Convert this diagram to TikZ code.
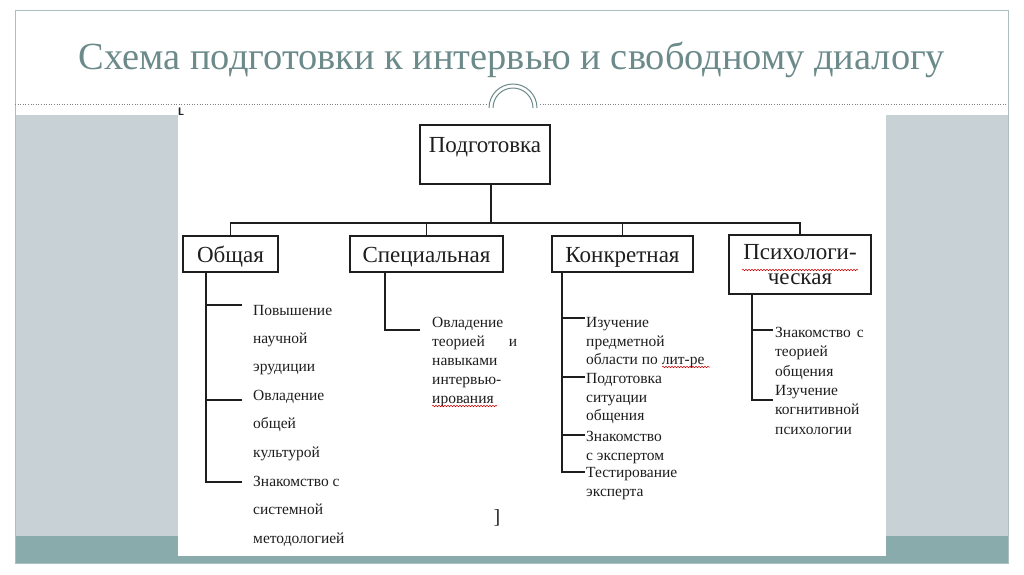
\documentclass[tikz,border=0pt]{standalone}
\usepackage{fontspec}
\setmainfont{Liberation Serif}
\usetikzlibrary{decorations.pathmorphing}
\definecolor{panel}{RGB}{199,209,214}
\definecolor{band}{RGB}{138,171,171}
\definecolor{framec}{RGB}{172,190,190}
\definecolor{titlec}{RGB}{108,138,138}
\definecolor{ink}{RGB}{30,30,30}
\tikzset{
  box/.style={draw=ink, line width=1.3pt, inner sep=0pt, text=ink,
    font=\fontsize{23}{25}\selectfont, align=center},
  onebox/.style={box, text height=26pt, text depth=10pt, inner ysep=0pt},
  item/.style={anchor=north west, inner sep=0pt, align=left, text=ink},
  conn/.style={draw=ink, line width=1.2pt},
  squig/.style={draw=red!80!black, line width=0.5pt,
    decorate, decoration={snake, amplitude=0.8pt, segment length=3pt}}
}
\begin{document}
\begin{tikzpicture}[x=1pt,y=-1pt]
\useasboundingbox (0,0) rectangle (1024,574);
\fill[white] (0,0) rectangle (1024,574);
% slide background
\fill[panel] (15,115) rectangle (1008,536);
\fill[band] (15,536) rectangle (1008,563);
\fill[white] (178,115) rectangle (886,556);
\draw[framec, line width=1pt] (15,10) rectangle (1008,563);
\draw[gray, dotted, line width=0.6pt] (15,104) -- (487,104);
\draw[gray, dotted, line width=0.6pt] (540,104) -- (1008,104);
\draw[titlec, line width=1pt] (489,108) arc[start angle=180, end angle=0, radius=24pt];
\draw[titlec, line width=1pt] (493,108) arc[start angle=180, end angle=0, radius=20pt];
% title
\node[text=titlec, font=\fontsize{38.4}{42}\selectfont, inner sep=0pt] (title) at (512,60)
  {Схема подготовки к интервью и свободному диалогу};
% artifacts
\node[font=\sffamily\bfseries\fontsize{11}{12}\selectfont, inner sep=0pt, text=ink] (lmark) at (181,112) {L};
\node[font=\fontsize{20}{20}\selectfont, inner sep=0pt, text=ink] (rbr) at (497,518) {]};
% boxes
\node[box, minimum width=130pt, text height=27pt, text depth=32pt, inner ysep=0pt] (podg) at (485,154.5) {Подготовка};
\node[onebox, minimum width=95pt] (obsh) at (230.5,254) {Общая};
\node[onebox, minimum width=153pt] (spec) at (426.5,254) {Специальная};
\node[onebox, minimum width=141pt] (konk) at (622.5,254) {Конкретная};
\node[box, minimum width=142pt, minimum height=59pt] (psy) at (800,264.5) {Психологи-\\ческая};
% bus
\coordinate (stem) at (491,223);
\draw[conn] (stem |- podg.south) -- (stem);
\draw[conn] (obsh.north) -- (obsh.north |- stem) -- (psy.north |- stem) -- (psy.north);
\draw[conn] (spec.north) -- (spec.north |- stem);
\draw[conn] (konk.north) -- (konk.north |- stem);
% Общая items
\begin{scope}[font=\fontsize{15.5}{28.3}\selectfont]
\node[item] (o1) at (253,305) {Повышение\\научной\\эрудиции};
\node[item] (o2) at (253,390) {Овладение\\общей\\культурой};
\node[item] (o3) at (253,476) {Знакомство с\\системной\\методологией};
\end{scope}
\coordinate (ov) at (206,0);
\draw[conn] (ov |- obsh.south) -- (ov |- 0,482) -- (242,482);
\draw[conn] (206,305) -- (242,305);
\draw[conn] (206,400) -- (242,400);
% Специальная item
\node[item, font=\fontsize{15.5}{19}\selectfont] (s1) at (432,317)
  {Овладение\\теорией\hspace*{24pt}и\\навыками\\интервью-\\ирования};
\coordinate (sv) at (385,0);
\draw[conn] (sv |- spec.south) -- (sv |- 0,330) -- (420,330);
% Конкретная items
\begin{scope}[font=\fontsize{15.5}{18.7}\selectfont]
\node[item] (k1) at (586,317) {Изучение\\предметной\\области по лит-ре};
\node[item] (k2) at (586,373) {Подготовка\\ситуации\\общения};
\node[item] (k3) at (586,431) {Знакомство\\с экспертом};
\node[item] (k4) at (586,467) {Тестирование\\эксперта};
\end{scope}
\coordinate (kv) at (562,0);
\draw[conn] (kv |- konk.south) -- (kv |- 0,472) -- (585,472);
\draw[conn] (562,318) -- (585,318);
\draw[conn] (562,377) -- (585,377);
\draw[conn] (562,435) -- (585,435);
% Психологическая items
\begin{scope}[font=\fontsize{15.5}{19.4}\selectfont]
\node[item] (p1) at (775,327) {Знакомство\hspace*{6pt}с\\теорией\\общения};
\node[item] (p2) at (775,385) {Изучение\\когнитивной\\психологии};
\end{scope}
\coordinate (pv) at (752,0);
\draw[conn] (pv |- psy.south) -- (pv |- 0,400) -- (773,400);
\draw[conn] (752,330) -- (773,330);
% spelling squiggles
\draw[squig] (662,367) -- (710,367);
\draw[squig] (432,406) -- (497,406);
\draw[squig] (742,270) -- (858,270);
\end{tikzpicture}
\end{document}
